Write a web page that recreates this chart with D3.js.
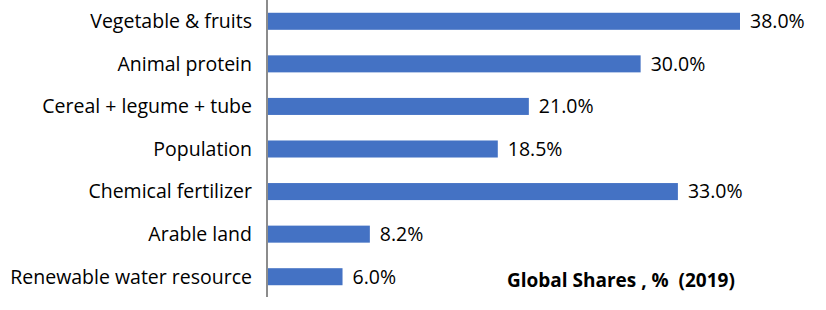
<!DOCTYPE html>
<html>
<head>
<meta charset="utf-8">
<script src="https://cdn.jsdelivr.net/npm/d3@7"></script>
<style>
  body { margin: 0; background: #fff; }
  svg text { font-family: "Open Sans", sans-serif; fill: #000; }
</style>
</head>
<body>
<svg id="chart"></svg>
<script>
const categories = [
    'Vegetable & fruits',
    'Animal protein',
    'Cereal + legume + tube',
    'Population',
    'Chemical fertilizer',
    'Arable land',
    'Renewable water resource',
];
const shares = [38.0, 30.0, 21.0, 18.5, 33.0, 8.2, 6.0];
const chartTitle = 'Global Shares , %  (2019)';

const dimensions = { width: 826, height: 310 };
const margin = { top: 0, right: 20, bottom: 13, left: 268 };

const svg = d3.select('#chart')
    .attr('width', dimensions.width)
    .attr('height', dimensions.height);

// x scale: 38% ends at about x=740
const x = d3.scaleLinear()
    .domain([0, 38])
    .range([margin.left, 740]);

const y = d3.scaleBand()
    .domain(categories)
    .range([0, 298])
    .paddingInner(0.6)
    .paddingOuter(0.3);

// bars
svg.selectAll('rect.bar')
    .data(categories)
    .join('rect')
    .attr('class', 'bar')
    .attr('x', x(0))
    .attr('y', d => y(d))
    .attr('width', (d, i) => x(shares[i]) - x(0))
    .attr('height', y.bandwidth())
    .attr('fill', '#4472C4');

// value labels
svg.selectAll('text.value')
    .data(categories)
    .join('text')
    .attr('class', 'value')
    .attr('x', (d, i) => x(shares[i]) + 10)
    .attr('y', d => y(d) + y.bandwidth() / 2)
    .attr('dy', '0.35em')
    .style('font-size', '19.5px')
    .text((d, i) => d3.format('.1f')(shares[i]) + '%');

// category axis
const yAxis = d3.axisLeft(y).tickSize(0).tickPadding(15);
const axisG = svg.append('g')
    .attr('transform', `translate(${margin.left - 1},0)`)
    .call(yAxis);
axisG.select('.domain').remove();
axisG.selectAll('text')
    .style('font-size', '19.5px')
    .attr('dy', '0.35em');

svg.append('line')
    .attr('x1', margin.left - 1).attr('x2', margin.left - 1)
    .attr('y1', 0).attr('y2', 297)
    .attr('stroke', '#8c8c8c')
    .attr('stroke-width', 2);

// title
svg.append('text')
    .attr('x', 507)
    .attr('y', 287)
    .style('font-size', '19px')
    .style('font-weight', 'bold')
    .attr('xml:space', 'preserve')
    .text(chartTitle);
</script>
</body>
</html>
